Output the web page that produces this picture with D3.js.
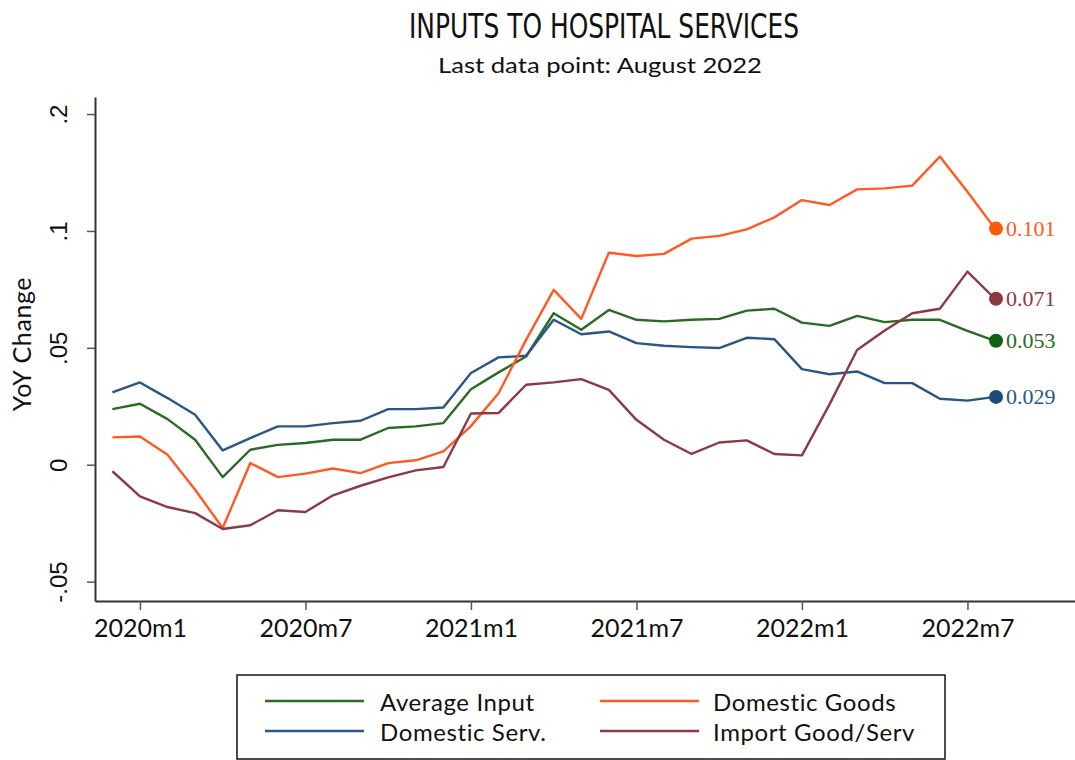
<!DOCTYPE html>
<html>
<head>
<meta charset="utf-8">
<script src="https://cdn.jsdelivr.net/npm/d3@7"></script>
<style>
  html, body { margin: 0; padding: 0; background: #fff; }
  svg { display: block; }
</style>
</head>
<body>
<svg id="chart" width="1075" height="760"></svg>
<script>
// ---- Data ----
const months = ["2019m12","2020m1","2020m2","2020m3","2020m4","2020m5","2020m6","2020m7","2020m8","2020m9","2020m10","2020m11","2020m12",
  "2021m1","2021m2","2021m3","2021m4","2021m5","2021m6","2021m7","2021m8","2021m9","2021m10","2021m11","2021m12",
  "2022m1","2022m2","2022m3","2022m4","2022m5","2022m6","2022m7","2022m8"];
const avgInput = [0.0238, 0.0261, 0.0195, 0.0107, -0.0053, 0.0064, 0.0085, 0.0093, 0.0107, 0.0107, 0.0157, 0.0164, 0.0178,
  0.0323, 0.0395, 0.0463, 0.0648, 0.0577, 0.0662, 0.0620, 0.0613, 0.0620, 0.0624, 0.0659, 0.0667,
  0.0608, 0.0594, 0.0637, 0.0610, 0.0620, 0.0620, 0.0573, 0.053];
const domServ = [0.0309, 0.0352, 0.0285, 0.0214, 0.0061, 0.0114, 0.0164, 0.0164, 0.0178, 0.0188, 0.0238, 0.0238, 0.0245,
  0.0392, 0.0459, 0.0466, 0.0620, 0.0558, 0.0570, 0.0520, 0.0509, 0.0503, 0.0499, 0.0543, 0.0537,
  0.0409, 0.0387, 0.0399, 0.0349, 0.0349, 0.0282, 0.0274, 0.029];
const domGoods = [0.0117, 0.0121, 0.0043, -0.0107, -0.0271, 0.0007, -0.0053, -0.0038, -0.0016, -0.0036, 0.0007, 0.0019, 0.0057,
  0.0165, 0.0306, 0.0534, 0.0748, 0.0624, 0.0907, 0.0893, 0.0902, 0.0967, 0.0979, 0.1007, 0.1058,
  0.1132, 0.1111, 0.1178, 0.1182, 0.1194, 0.1318, 0.1168, 0.101];
const importGS = [-0.0028, -0.0135, -0.0181, -0.0207, -0.0275, -0.0259, -0.0195, -0.0202, -0.0131, -0.0090, -0.0054, -0.0024, -0.0010,
  0.0219, 0.0221, 0.0342, 0.0352, 0.0366, 0.0320, 0.0192, 0.0107, 0.0046, 0.0095, 0.0104, 0.0046,
  0.0040, 0.0258, 0.0491, 0.0574, 0.0648, 0.0667, 0.0826, 0.071];
const seriesNames = ["Average Input", "Domestic Serv.", "Domestic Goods", "Import Good/Serv"];
const seriesColors = ["#2a6b24", "#2b5584", "#ff5a22", "#8c3a44"];
const dotColors = ["#0d6112", "#1f4b78", "#ff5a0c", "#8b3a42"];
const endLabels = ["0.053", "0.029", "0.101", "0.071"];
const xTickLabels = ["2020m1","2020m7","2021m1","2021m7","2022m1","2022m7"];
const yTickValues = [-0.05, 0, 0.05, 0.1, 0.15];
const yTickLabels = ["-.05", "0", ".05", ".1", ".2"];

const seriesValues = [avgInput, domServ, domGoods, importGS];

// ---- Layout ----
const svg = d3.select("#chart");
const plotLeft = 95, plotRight = 1075, plotTop = 97, plotBottom = 601;

const x = d3.scaleLinear().domain([-0.63, 34.9]).range([plotLeft, plotRight]);
const y = d3.scaleLinear().domain([-0.0583, 0.1573]).range([plotBottom, plotTop]);
const idx = m => months.indexOf(m);

// Title
svg.append("text").attr("x", 604).attr("y", 38).attr("text-anchor", "middle")
  .attr("font-family", "'Liberation Sans Narrow', 'DejaVu Sans Condensed', 'Liberation Sans', sans-serif")
  .attr("font-size", 34).attr("fill", "#111")
  .attr("textLength", 390).attr("lengthAdjust", "spacingAndGlyphs")
  .text("INPUTS TO HOSPITAL SERVICES");
svg.append("text").attr("x", 600).attr("y", 73).attr("text-anchor", "middle")
  .attr("font-family", "Lato, 'Noto Sans', sans-serif")
  .attr("font-size", 22).attr("fill", "#111")
  .attr("textLength", 324).attr("lengthAdjust", "spacingAndGlyphs")
  .text("Last data point: August 2022");

// Axes
const xAxis = d3.axisBottom(x)
  .tickValues(xTickLabels.map(idx))
  .tickFormat((d, i) => xTickLabels[i])
  .tickSize(9).tickSizeOuter(0);
const gx = svg.append("g").attr("transform", `translate(0,${plotBottom})`).call(xAxis);
gx.select(".domain").attr("stroke", "#333").attr("stroke-width", 2);
gx.selectAll(".tick line").attr("stroke", "#555").attr("stroke-width", 1.5);
gx.selectAll(".tick text").attr("font-family", "Lato, 'Noto Sans', sans-serif")
  .attr("font-size", 25).attr("fill", "#111").attr("dy", "0.95em");

const yAxis = d3.axisLeft(y)
  .tickValues(yTickValues)
  .tickFormat((d, i) => yTickLabels[i])
  .tickSize(8).tickSizeOuter(0);
const gy = svg.append("g").attr("transform", `translate(${plotLeft},0)`).call(yAxis);
gy.select(".domain").attr("stroke", "#333").attr("stroke-width", 2);
gy.selectAll(".tick line").attr("stroke", "#555").attr("stroke-width", 1.5);
gy.selectAll(".tick text")
  .attr("font-family", "'Liberation Sans', Arial, sans-serif")
  .attr("font-size", 24).attr("fill", "#111")
  .attr("x", 0).attr("dy", 0)
  .attr("text-anchor", "middle")
  .attr("transform", "translate(-37,0) rotate(-90)")
  .attr("dominant-baseline", "central");

// Y title
svg.append("text")
  .attr("transform", "translate(31,344) rotate(-90)")
  .attr("text-anchor", "middle")
  .attr("font-family", "Lato, 'Noto Sans', sans-serif")
  .attr("font-size", 25).attr("letter-spacing", 0.6).attr("fill", "#111")
  .text("YoY Change");

// Lines
const line = d3.line().x((d, i) => x(i)).y(d => y(d));
const drawOrder = [0, 1, 2, 3];
drawOrder.forEach(s => {
  svg.append("path").datum(seriesValues[s])
    .attr("d", line)
    .attr("fill", "none")
    .attr("stroke", seriesColors[s])
    .attr("stroke-width", 2.4)
    .attr("stroke-linejoin", "round");
});

// End dots and labels
drawOrder.forEach(s => {
  const vals = seriesValues[s];
  const last = vals.length - 1;
  svg.append("circle")
    .attr("cx", x(last) + 1).attr("cy", y(vals[last])).attr("r", 7)
    .attr("fill", dotColors[s]);
  svg.append("text")
    .attr("x", x(last) + 11).attr("y", y(vals[last]))
    .attr("dominant-baseline", "central")
    .attr("font-family", "'Liberation Serif', 'Times New Roman', serif")
    .attr("font-size", 22).attr("fill", seriesColors[s])
    .text(endLabels[s]);
});

// Legend
const lg = svg.append("g");
lg.append("rect").attr("x", 237).attr("y", 675).attr("width", 708).attr("height", 84)
  .attr("fill", "#fff").attr("stroke", "#111").attr("stroke-width", 1.5);
const legPos = [
  {lx: 265, tx: 380, y: 701},
  {lx: 265, tx: 380, y: 731},
  {lx: 600, tx: 713, y: 701},
  {lx: 600, tx: 713, y: 731}
];
legPos.forEach((p, s) => {
  lg.append("line").attr("x1", p.lx).attr("x2", p.lx + 99)
    .attr("y1", p.y).attr("y2", p.y)
    .attr("stroke", seriesColors[s]).attr("stroke-width", 2.6);
  lg.append("text").attr("x", p.tx).attr("y", p.y)
    .attr("dominant-baseline", "central")
    .attr("font-family", "Lato, 'Noto Sans', sans-serif")
    .attr("font-size", 24).attr("letter-spacing", 0.6).attr("fill", "#111")
    .text(seriesNames[s]);
});
</script>
</body>
</html>
